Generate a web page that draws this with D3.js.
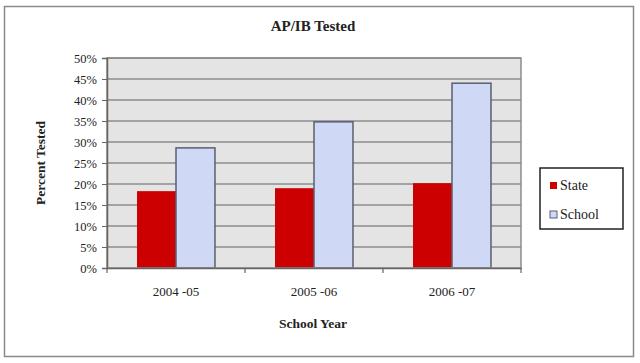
<!DOCTYPE html>
<html>
<head>
<meta charset="utf-8">
<script src="https://d3js.org/d3.v7.min.js"></script>
<style>
  body { margin: 0; background: #fff; }
  text { font-family: "Liberation Serif", "DejaVu Serif", serif; fill: #222; }
</style>
</head>
<body>
<div id="chart-area"></div>
<script>
  // Chart values
  var years = ['2004 -05', '2005 -06', '2006 -07'];
  var seriesNames = ['State', 'School'];
  var stateValues = [18.3, 19.0, 20.2];
  var schoolValues = [28.6, 34.8, 44.0];
  var yTicks = [0, 5, 10, 15, 20, 25, 30, 35, 40, 45, 50];

  var colors = { State: '#cc0000', School: '#cfd9f5' };

  var W = 640, H = 363;
  var margin = {left: 107, right: 119, top: 58, bottom: 95};
  var width = W - margin.left - margin.right,
      height = H - margin.top - margin.bottom;

  var svg = d3.select('#chart-area')
      .append('svg')
      .attr('width', W)
      .attr('height', H);

  // outer frame
  svg.append('rect')
      .attr('x', 4.5).attr('y', 6.5)
      .attr('width', 629).attr('height', 350)
      .attr('fill', 'none')
      .attr('stroke', '#8a8a8a')
      .attr('stroke-width', 1.5);

  svg.append('text')
      .attr('x', 313).attr('y', 31)
      .attr('text-anchor', 'middle')
      .attr('font-size', '15px')
      .attr('font-weight', 'bold')
      .text('AP/IB Tested');

  var g = svg.append('g')
      .attr('transform', 'translate(' + margin.left + ',' + margin.top + ')');

  // Scales
  var x0 = d3.scaleBand().domain(years).range([0, width]).padding(0);
  var x1 = d3.scaleBand().domain(seriesNames)
      .range([0, x0.bandwidth()]).paddingInner(0).paddingOuter(0.77);
  var y = d3.scaleLinear().domain([0, 50]).range([height, 0]);

  // plot background
  g.append('rect')
      .attr('width', width).attr('height', height)
      .attr('fill', '#e4e4e4');

  // gridlines
  g.append('g').selectAll('line')
      .data(yTicks.slice(1))
      .enter().append('line')
      .attr('x1', 0).attr('x2', width)
      .attr('y1', function(d) { return y(d); })
      .attr('y2', function(d) { return y(d); })
      .attr('stroke', '#8c8c8c')
      .attr('stroke-width', 1.5);

  // bars
  var groups = g.append('g').selectAll('g')
      .data(years)
      .enter().append('g')
      .attr('transform', function(d) { return 'translate(' + x0(d) + ',0)'; });

  groups.selectAll('rect')
      .data(function(d, i) {
        return [{key: 'State', value: stateValues[i]},
                {key: 'School', value: schoolValues[i]}];
      })
      .enter().append('rect')
      .attr('x', function(d) { return x1(d.key); })
      .attr('y', function(d) { return y(d.value); })
      .attr('width', x1.bandwidth())
      .attr('height', function(d) { return height - y(d.value); })
      .attr('fill', function(d) { return colors[d.key]; })
      .attr('stroke', function(d) { return d.key === 'School' ? '#5a5f70' : 'none'; })
      .attr('stroke-width', 1.5);

  // plot border
  g.append('rect')
      .attr('width', width).attr('height', height)
      .attr('fill', 'none')
      .attr('stroke', '#8c8c8c')
      .attr('stroke-width', 1.5);

  // Axes
  var yAxisCall = d3.axisLeft(y)
      .tickValues(yTicks)
      .tickSize(5)
      .tickFormat(function(d) { return d + '%'; });
  var yAxis = g.append('g').call(yAxisCall);
  yAxis.select('.domain').attr('stroke', '#666').attr('stroke-width', 1.5);
  yAxis.selectAll('.tick line').attr('stroke', '#666');
  yAxis.selectAll('text')
      .attr('font-size', '12.5px')
      .attr('font-family', '"Liberation Serif", serif')
      .attr('fill', '#333')
      .attr('x', -10);

  var xAxis = g.append('g')
      .attr('transform', 'translate(0,' + height + ')')
      .call(d3.axisBottom(x0).tickSize(0).tickPadding(19));
  xAxis.select('.domain').attr('stroke', '#666').attr('stroke-width', 1.5);
  xAxis.selectAll('text')
      .attr('font-size', '13px')
      .attr('font-family', '"Liberation Serif", serif')
      .attr('fill', '#333');
  // category separator ticks
  g.append('g').selectAll('line')
      .data(years.concat(['end']))
      .enter().append('line')
      .attr('x1', function(d, i) { return i * x0.step(); })
      .attr('x2', function(d, i) { return i * x0.step(); })
      .attr('y1', height).attr('y2', height + 5)
      .attr('stroke', '#666')
      .attr('stroke-width', 1.2);

  // Axis titles
  g.append('text')
      .attr('x', width / 2 - 1)
      .attr('y', height + 60)
      .attr('text-anchor', 'middle')
      .attr('font-size', '13.5px')
      .attr('font-weight', 'bold')
      .text('School Year');
  g.append('text')
      .attr('transform', 'rotate(-90)')
      .attr('x', -height / 2)
      .attr('y', -62)
      .attr('text-anchor', 'middle')
      .attr('font-size', '13.5px')
      .attr('font-weight', 'bold')
      .text('Percent Tested');

  // Legend
  var legend = svg.append('g').attr('transform', 'translate(540,168)');
  legend.append('rect')
      .attr('width', 83).attr('height', 61)
      .attr('fill', '#fff')
      .attr('stroke', '#222')
      .attr('stroke-width', 1.5);
  seriesNames.forEach(function(name, i) {
    var row = legend.append('g')
        .attr('transform', 'translate(10,' + (14 + i * 29) + ')');
    row.append('rect')
        .attr('width', 7).attr('height', 7)
        .attr('fill', colors[name])
        .attr('stroke', name === 'School' ? '#5a5f70' : 'none');
    row.append('text')
        .attr('x', 10).attr('y', 8)
        .attr('font-size', '14px')
        .attr('fill', '#333')
        .text(name);
  });
</script>
</body>
</html>
